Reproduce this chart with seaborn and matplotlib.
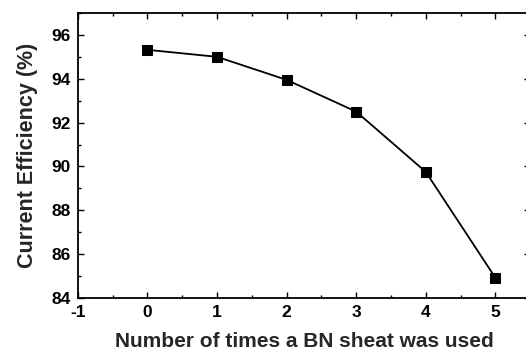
import matplotlib
matplotlib.use("Agg")
import matplotlib.pyplot as plt
import seaborn as sns
import pandas as pd
from matplotlib.ticker import MultipleLocator

uses = [0, 1, 2, 3, 4, 5]
efficiency = [95.32, 95.0, 93.95, 92.5, 89.75, 84.92]
x_ticks = [-1, 0, 1, 2, 3, 4, 5]
y_ticks = [84, 86, 88, 90, 92, 94, 96]

sns.set_theme(style="ticks")
plt.rcParams['font.family'] = ['Liberation Sans', 'DejaVu Sans']
plt.rcParams['axes.unicode_minus'] = False

df = pd.DataFrame({"uses": uses, "eff": efficiency})

fig = plt.figure(figsize=(5.26, 3.51), dpi=100)
ax = fig.add_axes([0.148, 0.151, 0.860, 0.812])
sns.lineplot(data=df, x="uses", y="eff", ax=ax, color="black", linewidth=1.3,
             marker="s", markersize=7, markeredgecolor="black", markerfacecolor="black")

ax.set_xlim(-1, 5.5)
ax.set_ylim(84, 97)
ax.set_xticks(x_ticks)
ax.set_yticks(y_ticks)
ax.xaxis.set_minor_locator(MultipleLocator(0.5))
ax.yaxis.set_minor_locator(MultipleLocator(1))
ax.tick_params(which="both", direction="in", top=True, right=True, colors="black",
               width=1.0, labelsize=12.5)
ax.tick_params(which="major", length=4, pad=5)
ax.tick_params(which="minor", length=2)
for lab in ax.get_xticklabels() + ax.get_yticklabels():
    lab.set_fontweight("semibold")
for s in ax.spines.values():
    s.set_linewidth(1.3)
    s.set_color("black")
ax.set_xlabel("Number of times a BN sheat was used", fontsize=15, fontweight="heavy", labelpad=9)
ax.set_ylabel("Current Efficiency (%)", fontsize=15.5, fontweight="heavy", labelpad=10)

fig.savefig("out.png", dpi=100)
